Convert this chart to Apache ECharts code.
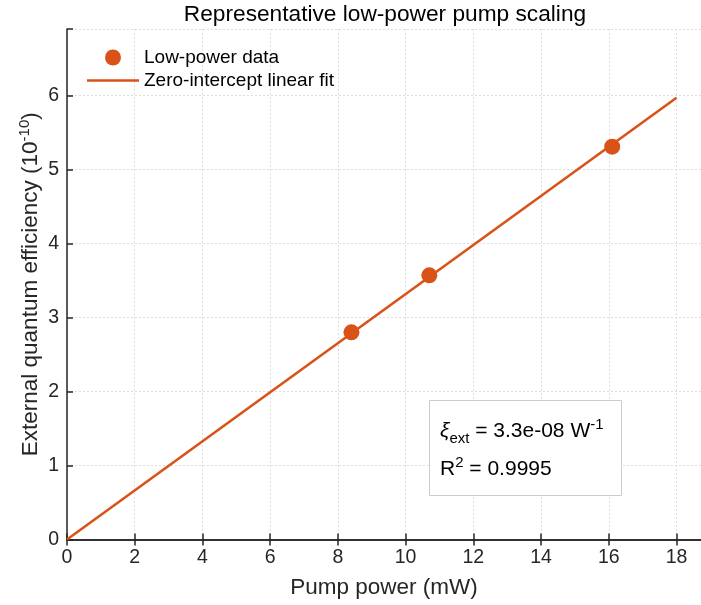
<!DOCTYPE html>
<html><head><meta charset="utf-8">
<script src="https://cdn.jsdelivr.net/npm/echarts@6/dist/echarts.min.js"></script>
<style>html,body{margin:0;padding:0;background:#fff}#c{width:701px;height:605px}</style>
</head><body><div id="c"></div>
<script>
var pumpPower = [8.4, 10.7, 16.1];
var efficiency = [2.80, 3.57, 5.31];
var fitX = [0, 18];
var fitY = [0, 5.97];
var xTicks = [0, 2, 4, 6, 8, 10, 12, 14, 16, 18];
var yTicks = [0, 1, 2, 3, 4, 5, 6];

var C = '#D95319';
var AX = '#262626';
var FONT = 'Liberation Sans, Arial, Helvetica, sans-serif';
var chart = echarts.init(document.getElementById('c'));
var scatterData = pumpPower.map(function (x, i) { return [x, efficiency[i]]; });
var fitData = fitX.map(function (x, i) { return [x, fitY[i]]; });
function fmtX(v) { return xTicks.indexOf(v) >= 0 ? String(v) : ''; }
function fmtY(v) { return yTicks.indexOf(v) >= 0 ? String(v) : ''; }
var gridLine = { show: true, lineStyle: { color: '#dedede', type: [2, 2], width: 1 } };
var XMAX = 18.9;
chart.setOption({
  animation: false,
  textStyle: { fontFamily: FONT },
  title: {
    text: 'Representative low-power pump scaling',
    left: 380, top: -2, textAlign: 'center',
    textStyle: { fontSize: 22.7, fontWeight: 'normal', color: '#000', fontFamily: FONT }
  },
  legend: {
    orient: 'vertical', left: 82, top: 43, itemGap: 4,
    itemWidth: 52, itemHeight: 16,
    textStyle: { fontSize: 19, color: '#000', fontFamily: FONT },
    data: [
      { name: 'Low-power data', icon: 'circle' },
      { name: 'Zero-intercept linear fit', icon: 'path://M0,0 L52,0 L52,2.6 L0,2.6 Z' }
    ]
  },
  grid: { left: 67, right: -6, top: 29, bottom: 65.5, outerBoundsMode: 'none', containLabel: false },
  xAxis: [{
    type: 'value', min: 0, max: XMAX, interval: 2,
    name: 'Pump power (mW)', nameLocation: 'middle', nameGap: 37, nameMoveOverlap: false,
    nameTextStyle: { fontSize: 22.5, color: AX, fontFamily: FONT, padding: [0, 6, 0, 0] },
    axisLine: { show: true, onZero: false, lineStyle: { color: AX, width: 1.5 } },
    axisTick: { show: true, inside: true, length: 6, lineStyle: { color: AX, width: 1.5 } },
    axisLabel: { fontSize: 19.5, color: AX, margin: 8, formatter: fmtX, fontFamily: FONT },
    splitLine: gridLine
  }, {
    type: 'value', position: 'top', min: 0, max: XMAX, interval: 2,
    axisLine: { show: true, lineStyle: { color: AX, width: 1.5 } },
    axisTick: { show: true, inside: true, length: 6, lineStyle: { color: AX, width: 1.5 } },
    axisLabel: { show: false }, splitLine: { show: false }
  }],
  yAxis: {
    type: 'value', min: 0, max: 6.9, interval: 1,
    name: '{b|External quantum efficiency (10}{s|-10}{b|)}', nameLocation: 'middle', nameGap: 23,
    nameMoveOverlap: false,
    nameTextStyle: {
      color: AX, fontFamily: FONT,
      rich: {
        b: { fontSize: 22.5, color: AX, fontFamily: FONT },
        s: { fontSize: 15, color: AX, fontFamily: FONT, verticalAlign: 'top', padding: [0, 0, 12, 0] }
      }
    },
    axisLine: { show: true, onZero: false, lineStyle: { color: AX, width: 1.5 } },
    axisTick: { show: true, inside: true, length: 6, lineStyle: { color: AX, width: 1.5 } },
    axisLabel: { fontSize: 19.5, color: AX, margin: 8, formatter: fmtY, fontFamily: FONT },
    splitLine: gridLine
  },
  series: [{
    name: 'Zero-intercept linear fit', type: 'line', data: fitData,
    showSymbol: false, symbol: 'none', z: 2,
    lineStyle: { color: C, width: 2.6 }, itemStyle: { color: C }
  }, {
    name: 'Low-power data', type: 'scatter', data: scatterData, z: 3,
    symbol: 'circle', symbolSize: 16, itemStyle: { color: C, opacity: 1 }
  }],
  graphic: [{
    type: 'rect', left: 429, top: 400, z: 10,
    shape: { width: 192, height: 95 },
    style: { fill: '#fff', stroke: '#cccccc', lineWidth: 1 }
  }, {
    type: 'text', left: 440, top: 417, z: 11,
    style: {
      text: '{g|ξ}{sub|ext}{n| = 3.3e-08 W}{sup|-1}\n{n|R}{sup|2}{n| = 0.9995}',
      fill: '#000', fontFamily: FONT,
      rich: {
        g: { fontSize: 21, fontFamily: FONT, fill: '#000', fontStyle: 'italic', lineHeight: 38 },
        n: { fontSize: 21, fontFamily: FONT, fill: '#000', lineHeight: 38 },
        sub: { fontSize: 15, fontFamily: FONT, fill: '#000', padding: [14, 0, 0, 0], lineHeight: 38 },
        sup: { fontSize: 15, fontFamily: FONT, fill: '#000', padding: [0, 0, 14, 0], lineHeight: 38 }
      }
    }
  }]
});
</script></body></html>
